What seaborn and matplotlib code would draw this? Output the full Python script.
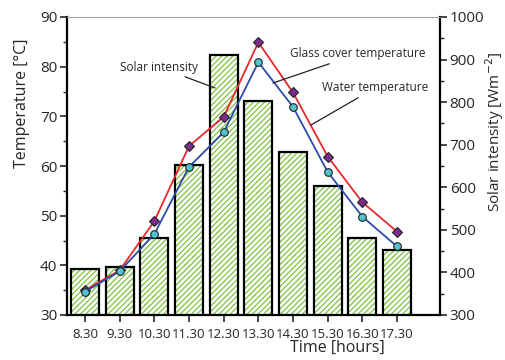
import matplotlib
matplotlib.use("Agg")
import matplotlib.pyplot as plt
import seaborn as sns
import pandas as pd
from matplotlib.ticker import MultipleLocator

times = ["8.30", "9.30", "10.30", "11.30", "12.30", "13.30", "14.30", "15.30", "16.30", "17.30"]
solar = [408, 413, 480, 652, 910, 802, 683, 603, 480, 452]
water_temp = [34.7, 38.8, 46.3, 59.8, 66.8, 80.9, 71.9, 58.8, 49.8, 43.8]
glass_temp = [35.0, 39.0, 48.9, 64.0, 69.9, 84.9, 74.8, 61.9, 52.7, 46.8]

sns.set_style("white")
plt.rcParams["font.family"] = ["Open Sans", "DejaVu Sans"]
plt.rcParams["hatch.linewidth"] = 0.9

df = pd.DataFrame({"time": times, "solar": solar, "water": water_temp, "glass": glass_temp})

fig = plt.figure(figsize=(5.05, 3.6), dpi=100)
ax = fig.add_axes([67/505, 45/360, (440-67)/505, (315-17)/360])
ax2 = ax.twinx()

green = "#7cc242"
sns.barplot(data=df, x="time", y="solar", ax=ax2, color="white", width=0.8,
            edgecolor=green, linewidth=0, hatch="//////", saturation=1)
for p in ax2.patches:
    p.set_edgecolor(green)
    p.set_linewidth(0)
sns.barplot(data=df, x="time", y="solar", ax=ax2, fill=False, width=0.8,
            edgecolor="black", linewidth=1.6, saturation=1)

sns.pointplot(data=df, x="time", y="glass", ax=ax, color="#e8282b", markers="D",
              linewidth=1.3, markersize=5.5, markerfacecolor="#7b2d8e",
              markeredgecolor="#222222", markeredgewidth=0.8)
sns.pointplot(data=df, x="time", y="water", ax=ax, color="#2b4ca8", markers="o",
              linewidth=1.3, markersize=5.5, markerfacecolor="#4fc3d0",
              markeredgecolor="#222222", markeredgewidth=0.8)

ax.set_zorder(ax2.get_zorder() + 1)
ax.patch.set_visible(False)

ax.set_xlim(-0.52, 10.24)
ax.set_ylim(30, 90)
ax2.set_ylim(300, 1000)

ax.yaxis.set_major_locator(MultipleLocator(10))
ax.yaxis.set_minor_locator(MultipleLocator(5))
ax2.yaxis.set_major_locator(MultipleLocator(100))
ax2.yaxis.set_minor_locator(MultipleLocator(50))

for a in (ax, ax2):
    for s in a.spines.values():
        s.set_visible(False)
for name in ("left", "bottom"):
    ax.spines[name].set_visible(True)
    ax.spines[name].set_linewidth(1.6)
    ax.spines[name].set_color("black")
ax.spines["top"].set_visible(True)
ax.spines["top"].set_linewidth(0.8)
ax.spines["top"].set_color("#a0a0a0")
ax2.spines["right"].set_visible(True)
ax2.spines["right"].set_linewidth(1.6)
ax2.spines["right"].set_color("black")

ax.tick_params(axis="y", which="major", direction="out", length=5, width=1.2, labelsize=11, left=True, pad=2)
ax.tick_params(axis="y", which="minor", direction="out", length=3, width=1.0, left=True)
ax2.tick_params(axis="y", which="major", direction="out", length=5, width=1.2, labelsize=11, right=True, pad=2)
ax2.tick_params(axis="y", which="minor", direction="out", length=3, width=1.0, right=True)
ax.tick_params(axis="x", which="major", direction="out", length=5, width=1.2, labelsize=9.5, bottom=True, pad=4)
ax2.tick_params(axis="x", bottom=False, labelbottom=False)

ax.set_xlabel("Time [hours]", fontsize=11.5)
ax.set_ylabel("Temperature [°C]", fontsize=11.5)
ax2.set_ylabel("Solar intensity [Wm$^{-2}$]", fontsize=11)
ax.xaxis.set_label_coords((337 - 67) / 373, -0.085)
ax.yaxis.set_label_coords((30 - 67) / 373, (315 - 103) / 298)
ax2.yaxis.set_label_coords((483 - 67) / 373, (315 - 132) / 298)

def px(x, y):
    return fig.transFigure.inverted().transform(fig.dpi_scale_trans.transform((x / 100, (360 - y) / 100)))

ann = dict(xycoords="figure fraction", textcoords="figure fraction", fontsize=8.5,
           arrowprops=dict(arrowstyle="-", color="#222222", lw=0.9, shrinkA=0, shrinkB=0))
ax.annotate("Solar intensity", xy=px(215, 88), xytext=px(159, 67), ha="center", va="center", **ann)
ax.annotate("Glass cover temperature", xy=px(273, 83), xytext=px(358, 54), ha="center", va="center", **ann)
ax.annotate("Water temperature", xy=px(311, 125), xytext=px(375, 88), ha="center", va="center", **ann)

fig.savefig("out.png", dpi=100)
